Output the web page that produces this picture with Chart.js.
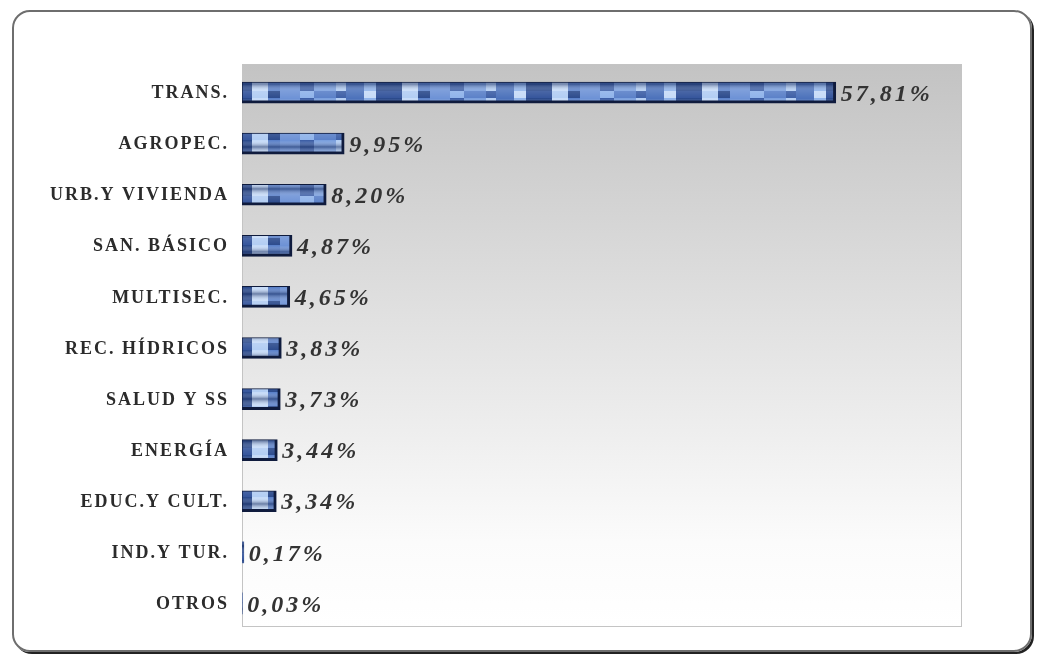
<!DOCTYPE html>
<html>
<head>
<meta charset="utf-8">
<script src="https://cdn.jsdelivr.net/npm/chart.js@4/dist/chart.umd.min.js"></script>
<style>
  body { margin: 0; background: #fff; }
  #wrap { position: relative; width: 1039px; height: 656px; }
  #frame {
    position: absolute; left: 12px; top: 10px; width: 1016px; height: 638px;
    border: 2px solid #6e6e6e; border-radius: 18px;
    box-shadow: 2px 2px 0 #222;
  }
  #myChart { position: absolute; left: 0; top: 0; }
</style>
</head>
<body>
<div id="wrap">
  <div id="frame"></div>
  <canvas id="myChart" width="1039" height="656"></canvas>
</div>
<script>
// sectores y porcentajes
const sectores = ['TRANS.', 'AGROPEC.', 'URB.Y VIVIENDA', 'SAN. BÁSICO', 'MULTISEC.',
  'REC. HÍDRICOS', 'SALUD Y SS', 'ENERGÍA', 'EDUC.Y CULT.', 'IND.Y TUR.', 'OTROS'];
const porcentajes = [57.81, 9.95, 8.20, 4.87, 4.65, 3.83, 3.73, 3.44, 3.34, 0.17, 0.03];
const ejeMax = 70;

// blocky blue texture for the bars
function makePattern(ctx) {
  const c = document.createElement('canvas');
  c.width = 150; c.height = 21;
  const p = c.getContext('2d');
  const shades = ['#3d5fa6', '#7a9fdd', '#b2cdf3', '#4c72bb', '#8fb3ea', '#2b4a8c', '#c6dbf8', '#5a80c8', '#6d92d6', '#34549b'];
  const widths = [14, 22, 10, 18, 12, 26, 16, 12, 20];
  let x = 0, i = 0;
  while (x < 150) {
    const w = widths[i % widths.length];
    p.fillStyle = shades[i % shades.length];
    p.fillRect(x, 0, w, 21);
    p.fillStyle = shades[(i * 3 + 4) % shades.length];
    p.fillRect(x, 7, w, 7);
    x += w; i++;
  }
  let g = p.createLinearGradient(0, 0, 0, 21);
  g.addColorStop(0, 'rgba(20,40,90,0.5)');
  g.addColorStop(0.3, 'rgba(255,255,255,0.12)');
  g.addColorStop(0.7, 'rgba(255,255,255,0)');
  g.addColorStop(1, 'rgba(20,40,90,0.55)');
  p.fillStyle = g;
  p.fillRect(0, 0, 150, 21);
  return ctx.createPattern(c, 'repeat');
}

const fondo = {
  id: 'fondo',
  beforeDatasetsDraw(chart) {
    const { ctx, chartArea: a } = chart;
    const top = a.top - 3, bottom = a.bottom - 3;
    ctx.save();
    let g = ctx.createLinearGradient(0, top, 0, bottom);
    g.addColorStop(0, '#c3c3c3');
    g.addColorStop(0.85, '#fbfbfb');
    g.addColorStop(1, '#ffffff');
    ctx.fillStyle = g;
    ctx.fillRect(a.left, top, a.right - a.left, bottom - top);
    ctx.strokeStyle = '#c4c4c4';
    ctx.lineWidth = 1;
    ctx.strokeRect(a.left + 0.5, top + 0.5, a.right - a.left, bottom - top);
    ctx.restore();
  }
};

const etiquetas = {
  id: 'etiquetas',
  afterDatasetsDraw(chart) {
    const { ctx, chartArea: a } = chart;
    const yScale = chart.scales.y;
    ctx.save();
    // category names
    ctx.font = 'bold 18px "Liberation Serif", "Times New Roman", serif';
    ctx.fillStyle = '#2b2b2b';
    ctx.textAlign = 'right';
    ctx.textBaseline = 'middle';
    ctx.letterSpacing = '2px';
    sectores.forEach((s, i) => {
      ctx.fillText(s, a.left - 13, yScale.getPixelForValue(i) + 1);
    });
    // values
    ctx.font = 'italic bold 24px "Liberation Serif", "Times New Roman", serif';
    ctx.fillStyle = '#333';
    ctx.textAlign = 'left';
    ctx.letterSpacing = '3px';
    chart.getDatasetMeta(0).data.forEach((bar, i) => {
      const txt = porcentajes[i].toFixed(2).replace('.', ',') + '%';
      ctx.fillText(txt, bar.x + 5, bar.y + 2);
    });
    ctx.restore();
  }
};

let ctx = document.getElementById('myChart').getContext('2d');
let chart = new Chart(ctx, {
  type: 'bar',
  data: {
    labels: sectores,
    datasets: [{
      data: porcentajes,
      backgroundColor: makePattern(ctx),
      borderColor: '#0f1b3d',
      // tiny bars are barely visible in the original
      borderWidth: c => c.raw < 1 ? 0 : { top: 1, left: 1, right: 3, bottom: 3 },
      borderSkipped: false,
      barThickness: 21
    }]
  },
  options: {
    indexAxis: 'y',
    responsive: false,
    animation: false,
    layout: { padding: { left: 242, top: 67, right: 78, bottom: 27 } },
    plugins: { legend: { display: false }, tooltip: { enabled: false } },
    scales: {
      x: { display: false, min: 0, max: ejeMax },
      y: { display: false }
    }
  },
  plugins: [fondo, etiquetas]
});
</script>
</body>
</html>
